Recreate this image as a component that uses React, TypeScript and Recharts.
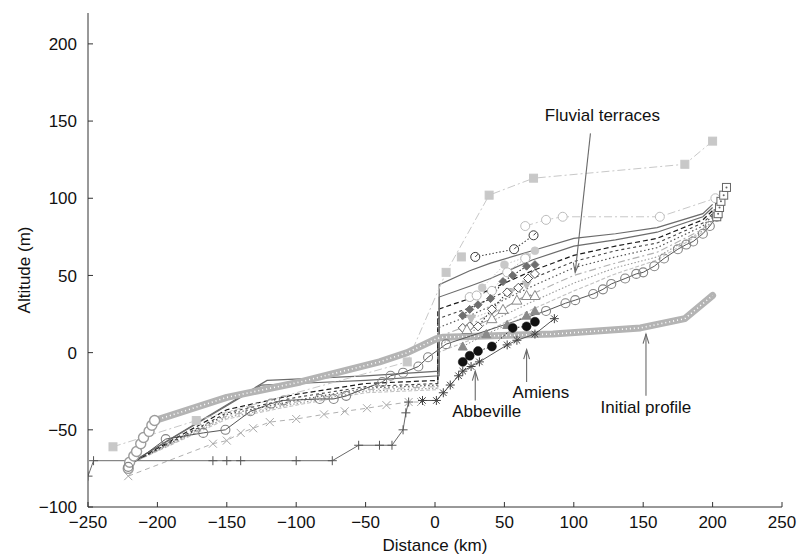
import React from "react";
import { LineChart, Line, XAxis, YAxis, ReferenceLine } from "recharts";

// axis ticks
const xTicks = [-250, -200, -150, -100, -50, 0, 50, 100, 150, 200, 250];
const yTicks = [-100, -50, 0, 50, 100, 150, 200];

// offshore / valley-floor records: [distance km, altitude m]
const plusProfile = [[-250, -80], [-246, -70], [-160, -70], [-150, -70], [-140, -70], [-100, -70], [-74, -70], [-55, -60], [-40, -60], [-31, -60], [-23, -50], [-21, -39], [-19, -32]];
const crossProfile = [[-221, -80], [-160, -59], [-150, -57], [-140, -52], [-131, -49], [-119, -45], [-100, -43], [-80, -40], [-65, -38], [-49, -36], [-35, -34], [-19, -32], [-10, -32]];

// initial profile: rising chain of markers, then the thick band
const initialChain = [[-221, -75], [-220, -71], [-217, -67], [-215, -64], [-212, -59], [-210, -55], [-206, -51], [-204, -47], [-202, -44]];
const initialProfile = [[-202, -44], [-150, -29], [-97, -19], [-40, -6], [-20, 0], [1, 9], [6, 10], [85, 12], [148, 16], [180, 22], [200, 37]];

// present river profile
const riverProfile = [[-221, -74], [-194, -56], [-167, -52], [-151, -50], [-133, -38], [-118, -33], [-109, -31], [-83, -30], [-73, -30], [-64, -28], [-38, -19], [-32, -15], [-23, -13], [-12, -9], [-5, -3], [8, 5.5], [80, 27], [94, 32], [101, 34], [114, 38], [121, 41], [127, 44.5], [137, 48], [145, 51], [150, 52], [158, 56], [165, 61], [175, 67], [181, 70], [186, 72], [193, 77], [198, 82], [203, 88]];

// modelled longitudinal profiles
const model1 = [[-222, -73], [-121, -18], [-97, -17], [-50, -15], [3, -12], [3, 44], [25, 53], [40, 58], [70, 66], [100, 74], [130, 77], [160, 81], [193, 90], [200, 96]];
const model2 = [[-222, -73], [-125, -21], [-100, -20], [-50, -18], [3, -15], [3, 36], [25, 43], [40, 48], [70, 60], [100, 69], [130, 73], [160, 78], [193, 88], [200, 94]];
const model3 = [[-222, -73], [-150, -37], [-100, -27], [-50, -20], [2, -18], [2, 28], [25, 35], [40, 41], [70, 53], [100, 63], [130, 69], [160, 74], [193, 86], [200, 92]];
const model4 = [[-222, -73], [-150, -39], [-100, -29], [-50, -22], [2, -20], [2, 22], [25, 29], [40, 35], [70, 48], [100, 59], [130, 66], [160, 71], [193, 84], [200, 90]];
const model5 = [[-222, -73], [-150, -40], [-100, -31], [-50, -23], [2, -21], [2, 16], [25, 24], [40, 30], [70, 43], [100, 55], [130, 62], [160, 68], [193, 82], [200, 89]];
const model6 = [[-222, -73], [-150, -41], [-100, -32], [-50, -24], [2, -22], [2, 10], [25, 18], [40, 25], [70, 38], [100, 50], [130, 58], [160, 65], [193, 80], [200, 88]];
const model7 = [[-222, -73], [-150, -42], [-100, -33], [-50, -25], [2, -23], [2, 5], [25, 13], [40, 20], [70, 33], [100, 45], [130, 55], [160, 62], [193, 79], [200, 86]];
const model8 = [[-222, -73], [-150, -43], [-100, -34], [-50, -26], [2, -24], [2, 0], [25, 8], [40, 15], [70, 28], [100, 40], [130, 51], [160, 60], [193, 78], [200, 85]];

// terrace records
const starTerrace = [[-9, -31], [1, -31], [6, -26], [11, -21], [17, -15], [20, -12], [26, -9], [32, -6], [52, 5], [59, 8], [72, 12], [86, 22]];
const blackTerrace = [[20, -6], [25, -2], [31, 1], [41, 4], [56, 16], [66, 17], [72, 20]];
const greyTriTerrace = [[20, 4], [37, 12], [52, 18], [66, 24], [72, 27]];
const openTriTerrace = [[23, 15], [41, 22], [49, 28], [59, 34], [66, 37], [72, 37]];
const openDiamondTerrace = [[20, 16], [25, 17], [31, 17], [41, 28], [52, 39], [60, 42], [67, 48], [72, 51]];
const diamondTerrace = [[20, 24], [25, 28], [31, 31], [40, 35], [49, 46], [56, 50], [66, 56], [72, 57]];
const lightTriTerrace = [[26, 22], [41, 27], [54, 39], [66, 44]];
const lightCircleTerrace = [[25, 36], [30, 37], [41, 40], [52, 52], [65, 61]];
const lightDotTerrace = [[34, 42], [50, 57], [66, 62], [72, 66]];
const ringTerrace = [[29, 62], [57, 67], [71, 76]];
const smallSquare = [[19, 62]];
const upperCircles = [[65, 82], [80, 86], [92, 88], [162, 88], [202, 100]];
const lightSquares = [[-232, -61], [-172, -44], [-20, -6], [8, 52], [39, 102], [71, 113], [180, 122], [200, 137]];
const endSquares = [[203, 88], [204, 90], [205, 94], [206, 98], [208, 102], [210, 107]];

// annotations: arrow tip, arrow tail (km, m)
const annotations = [
  { text: "Fluvial terraces", tip: [101, 52], tail: [112, 142], anchor: "middle", dx: 12, dy: -12 },
  { text: "Amiens", tip: [66, 2], tail: [66, -19], anchor: "start", dx: -14, dy: 16 },
  { text: "Abbeville", tip: [29, -12], tail: [29, -31], anchor: "start", dx: -23, dy: 17 },
  { text: "Initial profile", tip: [152, 12], tail: [152, -28], anchor: "middle", dx: 0, dy: 17 },
];

const FONT = '"Liberation Sans", Arial, Helvetica, sans-serif';
const toPts = (arr: number[][]) => arr.map(([x, y]) => ({ x, y }));

type Kind = "plus" | "cross" | "star" | "circle" | "disc" | "triUp" | "triDown" | "diamond" | "square" | "ring" | "boxDot";

const marker = (kind: Kind, color: string, fill = "none", s = 4.5, sw = 1) => (p: any) => {
  const { cx, cy, index } = p;
  const key = `m-${index}`;
  if (cx == null || cy == null) return <g key={key} />;
  const common = { stroke: color, strokeWidth: sw, fill };
  switch (kind) {
    case "plus":
      return <path key={key} d={`M${cx - s} ${cy}H${cx + s}M${cx} ${cy - s}V${cy + s}`} stroke={color} strokeWidth={sw} />;
    case "cross":
      return <path key={key} d={`M${cx - s} ${cy - s}L${cx + s} ${cy + s}M${cx + s} ${cy - s}L${cx - s} ${cy + s}`} stroke={color} strokeWidth={sw} />;
    case "star": {
      const d = s * 0.72;
      return <path key={key} d={`M${cx - s} ${cy}H${cx + s}M${cx} ${cy - s}V${cy + s}M${cx - d} ${cy - d}L${cx + d} ${cy + d}M${cx + d} ${cy - d}L${cx - d} ${cy + d}`} stroke={color} strokeWidth={sw} />;
    }
    case "circle":
      return <circle key={key} cx={cx} cy={cy} r={s} {...common} />;
    case "disc":
      return <circle key={key} cx={cx} cy={cy} r={s} fill={color} stroke={color} strokeWidth={0.5} />;
    case "triUp":
      return <path key={key} d={`M${cx} ${cy - s}L${cx + s} ${cy + s * 0.8}L${cx - s} ${cy + s * 0.8}Z`} {...common} />;
    case "triDown":
      return <path key={key} d={`M${cx} ${cy + s}L${cx + s} ${cy - s * 0.8}L${cx - s} ${cy - s * 0.8}Z`} {...common} />;
    case "diamond":
      return <path key={key} d={`M${cx} ${cy - s}L${cx + s} ${cy}L${cx} ${cy + s}L${cx - s} ${cy}Z`} {...common} />;
    case "square":
      return <rect key={key} x={cx - s} y={cy - s} width={2 * s} height={2 * s} {...common} />;
    case "ring":
      return (
        <g key={key}>
          <circle cx={cx} cy={cy} r={s} stroke={color} strokeWidth={sw} fill="#fff" />
          <path d={`M${cx} ${cy}L${cx + s * 0.6} ${cy - s * 0.6}`} stroke={color} strokeWidth={sw} />
        </g>
      );
    case "boxDot":
      return (
        <g key={key}>
          <rect x={cx - s} y={cy - s} width={2 * s} height={2 * s} stroke={color} strokeWidth={sw} fill="#fff" />
          <circle cx={cx} cy={cy} r={1} fill={color} />
        </g>
      );
  }
  return <g key={key} />;
};

const YTick = (props: any) => {
  const { x, y, payload } = props;
  const ax = x + 11;
  const v = payload.value;
  return (
    <g>
      <line x1={ax} x2={ax + 5} y1={y} y2={y} stroke="#333" strokeWidth={1} />
      <text x={x} y={y} dy="0.36em" textAnchor="end" fontFamily={FONT} fontSize={17} fill="#111">
        {v < 0 ? `\u2212${Math.abs(v)}` : `${v}`}
      </text>
    </g>
  );
};

const XTick = (props: any) => {
  const { x, y, payload } = props;
  const ay = y - 9;
  const v = payload.value;
  return (
    <g>
      <line x1={x} x2={x} y1={ay} y2={ay - 5} stroke="#333" strokeWidth={1} />
      <text x={x} y={y} dy="0.72em" textAnchor="middle" fontFamily={FONT} fontSize={17} fill="#111">
        {v < 0 ? `\u2212${Math.abs(v)}` : `${v}`}
      </text>
    </g>
  );
};

const YTitle = (props: any) => {
  const vb = props.viewBox || { y: 13, height: 494 };
  const cx = 24;
  const cy = vb.y + vb.height / 2 + 10;
  return (
    <text x={cx} y={cy} transform={`rotate(-90 ${cx} ${cy})`} textAnchor="middle" dy="0.35em" fontFamily={FONT} fontSize={17} fill="#111">
      Altitude (m)
    </text>
  );
};

const XTitle = (props: any) => {
  const vb = props.viewBox || { x: 88, width: 694 };
  const cx = vb.x + vb.width / 2;
  return (
    <text x={cx} y={551} textAnchor="middle" fontFamily={FONT} fontSize={17} fill="#111">
      Distance (km)
    </text>
  );
};

const arrowShape = (a: (typeof annotations)[number]) => (p: any) => {
  const { x1, y1, x2, y2 } = p;
  if ([x1, y1, x2, y2].some((v) => v == null || Number.isNaN(v))) return <g />;
  const len = Math.hypot(x1 - x2, y1 - y2) || 1;
  const ux = (x1 - x2) / len;
  const uy = (y1 - y2) / len;
  const L = 10;
  const th = (17 * Math.PI) / 180;
  const c = Math.cos(th);
  const s = Math.sin(th);
  const h1x = x1 - L * (ux * c - uy * s);
  const h1y = y1 - L * (ux * s + uy * c);
  const h2x = x1 - L * (ux * c + uy * s);
  const h2y = y1 - L * (-ux * s + uy * c);
  return (
    <g>
      <line x1={x1} y1={y1} x2={x2} y2={y2} stroke="#6a6a6a" strokeWidth={1.1} />
      <path d={`M${h1x} ${h1y}L${x1} ${y1}L${h2x} ${h2y}`} stroke="#6a6a6a" strokeWidth={1.1} fill="none" />
      <text x={x2 + a.dx} y={y2 + a.dy} textAnchor={a.anchor as any} fontFamily={FONT} fontSize={17} fill="#111">
        {a.text}
      </text>
    </g>
  );
};

const base = { isAnimationActive: false, activeDot: false, type: "linear" as const, dataKey: "y", legendType: "none" as const };

export default function App() {
  return (
    <div style={{ width: 808, height: 556, background: "#fff" }}>
      <style>{"body{margin:0}"}</style>
      <LineChart width={808} height={556} margin={{ top: 13, right: 26, bottom: 9, left: 28 }}>
        <XAxis
          type="number"
          dataKey="x"
          domain={[-250, 250]}
          ticks={xTicks}
          allowDataOverflow
          tickSize={0}
          tickMargin={9}
          height={40}
          tick={<XTick />}
          axisLine={{ stroke: "#333", strokeWidth: 1 }}
          tickLine={false}
          label={<XTitle />}
        />
        <YAxis
          type="number"
          domain={[-100, 220]}
          ticks={yTicks}
          allowDataOverflow
          width={60}
          tickSize={0}
          tickMargin={11}
          tick={<YTick />}
          axisLine={{ stroke: "#333", strokeWidth: 1 }}
          tickLine={false}
          label={<YTitle />}
        />

        {/* modelled profiles */}
        <Line {...base} data={toPts(model8)} stroke="#c2c2c2" strokeWidth={1.1} strokeDasharray="4 2" dot={false} />
        <Line {...base} data={toPts(model7)} stroke="#9a9a9a" strokeWidth={1.1} strokeDasharray="1.5 2" dot={false} />
        <Line {...base} data={toPts(model6)} stroke="#b2b2b2" strokeWidth={1.1} strokeDasharray="7 3 2 3" dot={false} />
        <Line {...base} data={toPts(model5)} stroke="#555" strokeWidth={1.2} strokeDasharray="1.5 2.5" dot={false} />
        <Line {...base} data={toPts(model4)} stroke="#444" strokeWidth={1.1} strokeDasharray="3 3" dot={false} />
        <Line {...base} data={toPts(model3)} stroke="#1a1a1a" strokeWidth={1.2} strokeDasharray="5 3" dot={false} />
        <Line {...base} data={toPts(model2)} stroke="#6b6b6b" strokeWidth={1.2} dot={false} />
        <Line {...base} data={toPts(model1)} stroke="#6b6b6b" strokeWidth={1.2} dot={false} />

        {/* offshore records */}
        <Line {...base} data={toPts(lightSquares)} stroke="#c8c8c8" strokeWidth={1} strokeDasharray="8 3 2 3" dot={marker("square", "#c8c8c8", "#c8c8c8", 4)} />
        <Line {...base} data={toPts(crossProfile)} stroke="#b0b0b0" strokeWidth={1} strokeDasharray="5 4" dot={marker("cross", "#a8a8a8", "none", 4)} />
        <Line {...base} data={toPts(plusProfile)} stroke="#6a6a6a" strokeWidth={1} dot={marker("plus", "#555", "none", 4.5)} />

        {/* initial profile */}
        <Line {...base} data={toPts(initialChain)} stroke="#bbb" strokeWidth={3} dot={marker("circle", "#9c9c9c", "#fff", 5, 1.4)} />
        <Line {...base} data={toPts(initialProfile)} stroke="#b4b4b4" strokeWidth={7} strokeLinecap="round" strokeLinejoin="round" dot={false} />
        <Line {...base} data={toPts(initialProfile)} stroke="#fff" strokeWidth={1.6} strokeDasharray="1 3" dot={false} />

        {/* present river */}
        <Line {...base} data={toPts(riverProfile)} stroke="#555" strokeWidth={1} dot={marker("circle", "#858585", "none", 4.5, 1.1)} />

        {/* terraces */}
        <Line {...base} data={toPts(upperCircles)} stroke="#c8c8c8" strokeWidth={1} strokeDasharray="8 3 2 3" dot={marker("circle", "#bdbdbd", "#fff", 4.5)} />
        <Line {...base} data={toPts(ringTerrace)} stroke="#444" strokeWidth={1.1} strokeDasharray="1.5 2" dot={marker("ring", "#3a3a3a", "#fff", 4.5)} />
        <Line {...base} data={toPts(smallSquare)} stroke="none" dot={marker("square", "#c8c8c8", "#c8c8c8", 4)} />
        <Line {...base} data={toPts(lightDotTerrace)} stroke="#c8c8c8" strokeWidth={1} strokeDasharray="1.5 2" dot={marker("disc", "#c8c8c8", "#c8c8c8", 4)} />
        <Line {...base} data={toPts(lightCircleTerrace)} stroke="#bdbdbd" strokeWidth={1} strokeDasharray="1.5 2" dot={marker("circle", "#b5b5b5", "#fff", 4.5)} />
        <Line {...base} data={toPts(lightTriTerrace)} stroke="#bdbdbd" strokeWidth={1} strokeDasharray="1.5 2" dot={marker("triDown", "#bdbdbd", "#bdbdbd", 4.5)} />
        <Line {...base} data={toPts(diamondTerrace)} stroke="#333" strokeWidth={1.1} strokeDasharray="1.5 2" dot={marker("diamond", "#6e6e6e", "#6e6e6e", 4)} />
        <Line {...base} data={toPts(openDiamondTerrace)} stroke="#333" strokeWidth={1.1} strokeDasharray="1.5 2" dot={marker("diamond", "#555", "#fff", 4.5)} />
        <Line {...base} data={toPts(openTriTerrace)} stroke="#999" strokeWidth={1} dot={marker("triUp", "#8a8a8a", "#fff", 5)} />
        <Line {...base} data={toPts(greyTriTerrace)} stroke="#8a8a8a" strokeWidth={1} strokeDasharray="1.5 2" dot={marker("triUp", "#8a8a8a", "#8a8a8a", 4.5)} />
        <Line {...base} data={toPts(blackTerrace)} stroke="#222" strokeWidth={1} strokeDasharray="1.5 2" dot={marker("disc", "#111", "#111", 4.5)} />
        <Line {...base} data={toPts(starTerrace)} stroke="#555" strokeWidth={1} dot={marker("star", "#444", "none", 4.5)} />
        <Line {...base} data={toPts(endSquares)} stroke="#999" strokeWidth={1} strokeDasharray="1 2" dot={marker("boxDot", "#666", "#fff", 4)} />

        {annotations.map((a) => (
          <ReferenceLine
            key={a.text}
            segment={[{ x: a.tip[0], y: a.tip[1] }, { x: a.tail[0], y: a.tail[1] }]}
            ifOverflow="visible"
            shape={arrowShape(a)}
          />
        ))}
      </LineChart>
    </div>
  );
}
